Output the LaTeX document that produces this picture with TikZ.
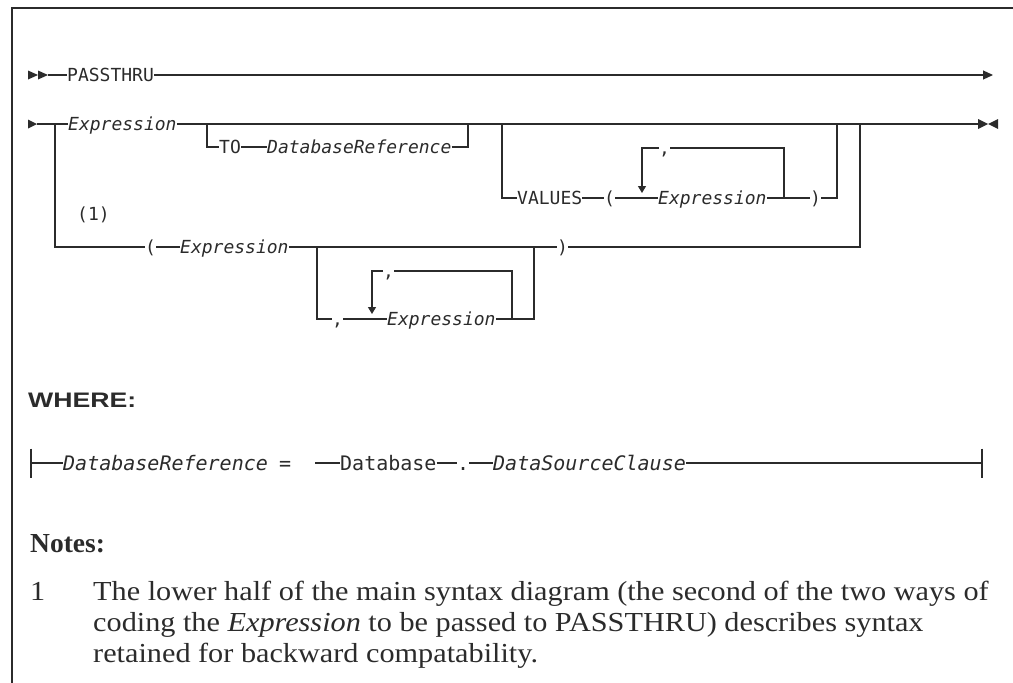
\documentclass[tikz,border=0pt]{standalone}
\usepackage{fontspec}
\usetikzlibrary{arrows.meta}
\newfontfamily\rrfont{DejaVu Sans Mono}
\newfontfamily\headfont[FakeStretch=1.27]{Liberation Sans}
\newfontfamily\notefont[FakeStretch=1.1]{Liberation Serif}
\newfontfamily\notehead{Liberation Serif}
\definecolor{rrink}{HTML}{2B2B2B}

\begin{document}
\begin{tikzpicture}[x=1pt, y=-1pt,
    kw/.style={font=\rrfont\fontsize{18}{18}\selectfont, text=rrink, inner sep=0pt, text height=13pt, text depth=0pt, anchor=west},
    var/.style={kw, font=\rrfont\itshape\fontsize{18}{18}\selectfont},
    defkw/.style={kw, font=\rrfont\fontsize{20}{20}\selectfont, text height=14.6pt},
    defvar/.style={defkw, font=\rrfont\itshape\fontsize{20}{20}\selectfont},
    rail/.style={line width=1.2pt, draw=rrink},
    loopdown/.style={rail, -{Triangle[length=7pt,width=8pt]}},
    goesout/.style={rail, -{Triangle[length=10pt,width=9pt]}},
    notes/.style={font=\notefont\fontsize{27.5}{27.5}\selectfont, text=rrink, inner sep=0pt, anchor=base west}
]
\useasboundingbox (0,0) rectangle (1013,683);
\draw[rail] (12,683) -- (12,8) -- (1013,8);

\fill[rrink] (28,70.5) -- (38,75) -- (28,79.5) -- cycle;
\fill[rrink] (38,70.5) -- (48,75) -- (38,79.5) -- cycle;
\coordinate (s1) at (48,75);
\node[kw] (pass) at (67,75) {PASSTHRU};
\coordinate (e1) at (993,75);
\draw[rail] (s1) -- (pass.west);
\draw[goesout] (pass.east) -- (e1);

\fill[rrink] (28,119.5) -- (37,124) -- (28,128.5) -- cycle;
\coordinate (s2) at (37,124);
\coordinate (j1) at (55,124);
\node[var] (expr) at (68,124) {Expression};
\coordinate (toL) at (207,124);
\node[kw] (to) at (219,147) {TO};
\node[var] (dbref) at (267,147) {DatabaseReference};
\coordinate (toR) at (468,124);
\coordinate (valL) at (502,124);
\node[kw] (values) at (517,198) {VALUES};
\node[kw] (vlp) at (604,198) {(};
\coordinate (vtop) at (642,148);
\coordinate (vdown) at (642,193);
\node[kw] (vcom) at (659,148) {,};
\node[var] (vexpr) at (658,198) {Expression};
\coordinate (vrep) at (784,198);
\node[kw] (vrp) at (810,198) {)};
\coordinate (valR) at (837,124);
\coordinate (outR) at (860,124);
\coordinate (e2) at (978,124);

\draw[rail] (s2) -- (expr.west);
\draw[rail] (expr.east) -- (e2);
\draw[rail] (toL) |- (to.west);
\draw[rail] (to.east) -- (dbref.west);
\draw[rail] (dbref.east) -| (toR);
\draw[rail] (valL) |- (values.west);
\draw[rail] (values.east) -- (vlp.west);
\draw[rail] (vlp.east) -- (vexpr.west);
\draw[rail] (vexpr.east) -- (vrp.west);
\draw[rail] (vrp.east) -| (valR);
\draw[loopdown] (vcom.west) -- (vtop) -- (vdown);
\draw[rail] (vcom.east) -| (vrep);

\node[kw] (note1) at (77,214) {(1)};
\node[kw] (lp) at (145,247) {(};
\node[var] (lexpr) at (180,247) {Expression};
\coordinate (lj) at (317,247);
\node[kw] (lcom) at (332,319) {,};
\coordinate (ltop) at (372,271);
\coordinate (ldown) at (372,314);
\node[kw] (lcom2) at (383,271) {,};
\node[var] (lexpr2) at (387,319) {Expression};
\coordinate (lrep) at (512,319);
\coordinate (lout) at (534,247);
\node[kw] (lrp) at (557,247) {)};

\draw[rail] (j1) |- (lp.west);
\draw[rail] (lp.east) -- (lexpr.west);
\draw[rail] (lexpr.east) -- (lrp.west);
\draw[rail] (lrp.east) -| (outR);
\draw[rail] (lj) |- (lcom.west);
\draw[rail] (lcom.east) -- (lexpr2.west);
\draw[rail] (lexpr2.east) -| (lout);
\draw[loopdown] (lcom2.west) -- (ltop) -- (ldown);
\draw[rail] (lcom2.east) -| (lrep);

\fill[rrink] (978,119) -- (988,124) -- (978,129) -- cycle;
\fill[rrink] (998,119) -- (988,124) -- (998,129) -- cycle;

\node[font=\headfont\bfseries\fontsize{21}{21}\selectfont, text=rrink, anchor=west, inner sep=0pt] (where) at (28,400) {WHERE:};

\coordinate (dL) at (31,463);
\node[defvar] (ddef) at (63,463) {DatabaseReference};
\node[defkw] (deq) at (279,463) {=};
\coordinate (ddash) at (315,463);
\node[defkw] (ddb) at (340,463) {Database};
\node[defkw] (ddot) at (457,463) {.};
\node[defvar] (dsrc) at (493,463) {DataSourceClause};
\coordinate (dR) at (982,463);
\draw[rail] (dL) ++(0,-14.5) -- ++(0,29);
\draw[rail] (dR) ++(0,-14.5) -- ++(0,29);
\draw[rail] (dL) -- (ddef.west);
\draw[rail] (ddash) -- (ddb.west);
\draw[rail] (ddb.east) -- (ddot.west);
\draw[rail] (ddot.east) -- (dsrc.west);
\draw[rail] (dsrc.east) -- (dR);

\node[font=\notehead\bfseries\fontsize{27.5}{27.5}\selectfont, text=rrink, anchor=base west, inner sep=0pt] (notes) at (30,552) {Notes:};
\node[notes] (n1) at (30,600) {1};
\node[notes] (l1) at (93,600) {The lower half of the main syntax diagram (the second of the two ways of};
\node[notes] (l2) at (93,631) {coding the \textit{Expression} to be passed to PASSTHRU) describes syntax};
\node[notes] (l3) at (93,662) {retained for backward compatability.};
\end{tikzpicture}
\end{document}
